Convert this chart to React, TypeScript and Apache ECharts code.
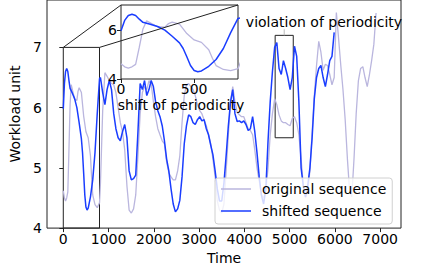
import React, { useEffect, useRef } from "react";
import * as echarts from "echarts";

// ---- data ----
const originalHeadTime = [0, 25, 50, 75, 100, 125, 150, 175, 200, 250, 300, 325, 350, 400, 450, 500, 550, 600, 625, 650, 700, 750, 800];
const originalHeadValue = [4.62, 4.5, 4.45, 4.5, 4.6, 5.3, 6.05, 6.38, 6.3, 6.14, 6.12, 6.27, 6.33, 6.25, 5.86, 5.6, 5.5, 5.2, 4.85, 4.55, 4.39, 4.34, 4.42];

const shiftedHeadTime = [0, 25, 50, 75, 100, 125, 150, 200, 250, 300, 350, 400, 425, 450, 475, 500, 525, 550, 600, 650, 700, 750, 800];
const shiftedHeadValue = [5.98, 6.4, 6.6, 6.65, 6.6, 6.45, 6.32, 6.24, 6.15, 6.0, 5.75, 5.48, 5.25, 4.91, 4.55, 4.35, 4.3, 4.33, 4.52, 4.8, 5.25, 5.9, 6.48];

const laterTime = [
  821, 870, 919, 967, 1016, 1065, 1114, 1162, 1211, 1260,
  1308, 1357, 1406, 1454, 1503, 1552, 1600, 1649, 1698, 1747,
  1795, 1844, 1893, 1941, 1990, 2039, 2088, 2136, 2185, 2234,
  2282, 2331, 2380, 2428, 2477, 2526, 2574, 2623, 2672, 2721,
  2769, 2818, 2867, 2915, 2964, 3013, 3061, 3110, 3159, 3208,
  3256, 3305, 3354, 3402, 3451, 3500, 3549, 3597, 3646, 3695,
  3743, 3792, 3841, 3889, 3938, 3987, 4036, 4084, 4133, 4182,
  4230, 4279, 4328, 4376, 4425, 4474, 4523, 4571, 4620, 4669,
  4717, 4766, 4815, 4863, 4912, 4961, 5010, 5058, 5107, 5156,
  5204, 5253, 5302, 5350, 5399, 5448, 5497, 5545, 5594, 5643,
  5691, 5740, 5789, 5837, 5886, 5935, 5984, 6032, 6081, 6130,
  6178, 6227, 6276, 6324, 6373, 6422, 6470, 6519, 6568, 6617,
  6665, 6714, 6763, 6811, 6860, 6909,
];

const shiftedLaterValue = [
  6.5, 6.25, 6.05, 6.3, 6.45, 6.3, 5.9, 5.65, 5.5, 5.45,
  5.6, 5.72, 5.5, 4.95, 4.8, 4.82, 4.88, 5.6, 6.4, 6.3,
  6.45, 6.2, 6.3, 6.45, 6.35, 6.1, 5.95, 5.85, 5.7, 5.45,
  5.15, 4.95, 4.65, 4.4, 4.27, 4.32, 4.46, 4.85, 5.4, 5.7,
  5.88, 5.85, 5.75, 5.72, 5.8, 5.85, 5.78, 5.8, 5.65, 5.55,
  5.38, 5.22, 4.95, 4.65, 4.45, 4.45, 4.75, 5.2, 5.7, 6.1,
  6.3, 5.9, 5.77, 5.78, 5.75, 5.78, 5.72, 5.62, 5.65, 5.85,
  5.6, 5.25, 4.85, 4.55, 4.4, 4.65, 5.45, 6.1, 6.6, 7.0,
  7.08, 6.65, 6.55, 6.78, 6.65, 6.5, 6.3, 6.5, 7.02, 6.85,
  6.1, 5.0, 4.7, 4.52, 4.7, 5.0, 5.5, 6.15, 6.5, 6.65,
  6.7, 6.5, 6.35, 6.55, 6.78, 6.85, 7.25,
];

const originalLaterValue = [
  4.75, 5.95, 6.58, 6.52, 6.45, 6.4, 6.38, 6.25, 6.0, 5.75,
  5.6, 5.3, 4.7, 4.3, 4.25, 4.32, 4.55, 5.2, 5.9, 6.25,
  6.35, 6.3, 6.45, 6.4, 6.1, 5.85, 5.65, 5.55, 5.45, 5.4,
  5.1, 4.92, 4.85, 4.8, 4.8, 4.95, 5.2, 5.75, 6.2, 6.38,
  6.4, 6.35, 6.3, 6.2, 6.05, 5.95, 5.9, 5.8, 5.7, 5.55,
  5.4, 5.15, 4.85, 4.45, 4.3, 4.25, 4.4, 4.95, 5.55, 6.1,
  6.35, 6.1, 5.92, 5.88, 5.85, 5.85, 5.75, 5.65, 5.62, 5.55,
  5.3, 5.0, 4.78, 4.55, 4.5, 4.62, 5.0, 5.55, 5.9, 6.15,
  6.05, 5.88, 5.78, 5.75, 5.75, 5.72, 5.7, 5.82, 5.85, 5.75,
  5.55, 5.15, 4.7, 4.5, 4.62, 4.95, 5.6, 6.2, 6.7, 7.1,
  6.92, 6.62, 6.72, 6.7, 6.55, 6.38, 6.5, 7.58, 7.15, 6.7,
  6.3, 5.8, 5.15, 4.62, 4.52, 5.15, 5.9, 6.45, 6.65, 6.68,
  6.5, 6.35, 6.55, 6.78, 7.05, 7.57,
];

const xTicks = [0, 1000, 2000, 3000, 4000, 5000, 6000, 7000];
const yTicks = [4, 5, 6, 7];
const insetXTicks = [0, 500];
const insetYTicks = [4, 6];

const zoomBox = { x0: 0, x1: 800, y0: 4, y1: 7 };
const violationBox = { x0: 4680, x1: 5080, y0: 5.5, y1: 7.2 };

const MAIN_X = [-360, 7460];
const MAIN_Y = [4, 7.787];
const INSET_X = [0, 800];
const INSET_Y = [4, 7.03];

const FONT = "DejaVu Sans";
const PURPLE = "#bab6de";
const BLUE = "#1a3dff";

export default function App() {
  const ref = useRef<HTMLDivElement>(null);

  useEffect(() => {
    if (!ref.current) return;
    const chart = echarts.init(ref.current, undefined, { renderer: "svg" });

    const originalData = [
      ...originalHeadTime.map((t, i) => [t, originalHeadValue[i]]),
      ...originalLaterValue.map((v, i) => [laterTime[i], v]),
    ];
    const shiftedData = [
      ...shiftedHeadTime.map((t, i) => [t, shiftedHeadValue[i]]),
      ...shiftedLaterValue.map((v, i) => [laterTime[i], v]),
    ];

    const fmt = (v: number) => String(v);
    const labelStyle = { fontSize: 14, color: "#000", fontFamily: FONT, formatter: fmt };

    const option: any = {
      animation: false,
      grid: [
        { left: 47, right: 21, top: 0, bottom: 39, show: true, borderColor: "#222", borderWidth: 1, backgroundColor: "transparent", z: 0 },
        { left: 121, top: 5, width: 117, height: 74, show: true, borderColor: "#222", borderWidth: 1, backgroundColor: "#fff", z: 10 },
      ],
      xAxis: [
        {
          gridIndex: 0, type: "value", min: MAIN_X[0], max: MAIN_X[1],
          axisLine: { show: false }, splitLine: { show: false },
          axisTick: { show: true, inside: false, length: 4, lineStyle: { color: "#222" }, customValues: xTicks },
          axisLabel: { ...labelStyle, margin: 4, customValues: xTicks },
          name: "Time", nameLocation: "middle", nameGap: 18,
          nameTextStyle: { fontSize: 14, color: "#000", fontFamily: FONT },
        },
        {
          gridIndex: 1, type: "value", min: INSET_X[0], max: INSET_X[1], z: 12,
          axisLine: { show: false }, splitLine: { show: false },
          axisTick: { show: true, inside: false, length: 4, lineStyle: { color: "#222" }, customValues: insetXTicks },
          axisLabel: { ...labelStyle, margin: 3, customValues: insetXTicks },
        },
      ],
      yAxis: [
        {
          gridIndex: 0, type: "value", min: MAIN_Y[0], max: MAIN_Y[1],
          axisLine: { show: false }, splitLine: { show: false },
          axisTick: { show: true, inside: false, length: 4, lineStyle: { color: "#222" }, customValues: yTicks },
          axisLabel: { ...labelStyle, margin: 5, customValues: yTicks },
          name: "Workload unit", nameLocation: "middle", nameGap: 15, nameRotate: 90,
          nameTextStyle: { fontSize: 14, color: "#000", fontFamily: FONT },
        },
        {
          gridIndex: 1, type: "value", min: INSET_Y[0], max: INSET_Y[1], z: 12,
          axisLine: { show: false }, splitLine: { show: false },
          axisTick: { show: true, inside: false, length: 4, lineStyle: { color: "#222" }, customValues: insetYTicks },
          axisLabel: { ...labelStyle, margin: 4, customValues: insetYTicks },
        },
      ],
      legend: {
        orient: "vertical", left: 215, top: 178,
        data: [
          { name: "original sequence", icon: "rect" },
          { name: "shifted sequence", icon: "rect" },
        ],
        itemWidth: 30, itemHeight: 1.5, itemGap: 6,
        padding: [3, 6, 5, 6],
        borderColor: "#d0d0d0", borderWidth: 1, borderRadius: 3,
        backgroundColor: "rgba(255,255,255,0.8)",
        textStyle: { fontSize: 14, color: "#000", fontFamily: FONT, padding: [0, 0, 0, 6], lineHeight: 16 },
        z: 60,
      },
      series: [
        {
          name: "original sequence", type: "line", xAxisIndex: 0, yAxisIndex: 0,
          data: originalData, symbol: "none", lineStyle: { color: PURPLE, width: 1.3 }, itemStyle: { color: PURPLE }, z: 2,
        },
        {
          name: "shifted sequence", type: "line", xAxisIndex: 0, yAxisIndex: 0,
          data: shiftedData, symbol: "none", lineStyle: { color: BLUE, width: 1.5 }, itemStyle: { color: BLUE }, z: 3,
          markArea: {
            silent: true,
            itemStyle: { color: "rgba(0,0,0,0)", borderColor: "#222", borderWidth: 1 },
            data: [
              [{ coord: [zoomBox.x0, zoomBox.y0] }, { coord: [zoomBox.x1, zoomBox.y1] }],
              [{ coord: [violationBox.x0, violationBox.y0] }, { coord: [violationBox.x1, violationBox.y1] }],
            ],
          },
        },
        {
          name: "original sequence", type: "line", xAxisIndex: 1, yAxisIndex: 1,
          data: originalData, symbol: "none", lineStyle: { color: PURPLE, width: 1.3 }, itemStyle: { color: PURPLE }, z: 11, clip: true,
        },
        {
          name: "shifted sequence", type: "line", xAxisIndex: 1, yAxisIndex: 1,
          data: shiftedData, symbol: "none", lineStyle: { color: BLUE, width: 1.5 }, itemStyle: { color: BLUE }, z: 12, clip: true,
        },
      ],
      graphic: [
        {
          type: "text", x: 324, y: 22, z: 100,
          style: { text: "violation of periodicity", fontSize: 14, fontFamily: FONT, fill: "#000", align: "center", verticalAlign: "middle", textAlign: "center", textVerticalAlign: "middle" },
        },
        {
          type: "text", x: 181, y: 105, z: 100,
          style: { text: "shift of periodicity", fontSize: 14, fontFamily: FONT, fill: "#000", align: "center", verticalAlign: "middle", textAlign: "center", textVerticalAlign: "middle" },
        },
      ],
    };

    chart.setOption(option);

    const px = (idx: number, v: number[]) =>
      chart.convertToPixel({ xAxisIndex: idx, yAxisIndex: idx } as any, v) as number[];
    const a = px(0, [zoomBox.x0, zoomBox.y1]);
    const b = px(0, [zoomBox.x1, zoomBox.y1]);
    const c = px(1, [INSET_X[0], INSET_Y[1]]);
    const d = px(1, [INSET_X[1], INSET_Y[1]]);
    const e = px(0, [(violationBox.x0 + violationBox.x1) / 2, violationBox.y1]);

    chart.setOption({
      graphic: [
        option.graphic[0],
        option.graphic[1],
        { type: "line", z: 90, shape: { x1: a[0], y1: a[1], x2: c[0], y2: c[1] }, style: { stroke: "#222", lineWidth: 1 } },
        { type: "line", z: 90, shape: { x1: b[0], y1: b[1], x2: d[0], y2: d[1] }, style: { stroke: "#222", lineWidth: 1 } },
        { type: "line", z: 90, shape: { x1: e[0], y1: e[1] - 6, x2: e[0], y2: e[1] }, style: { stroke: "#bbb", lineWidth: 1 } },
      ],
    });

    return () => chart.dispose();
  }, []);

  return <div ref={ref} style={{ width: 422, height: 270, position: "absolute", left: 0, top: 0 }} />;
}
